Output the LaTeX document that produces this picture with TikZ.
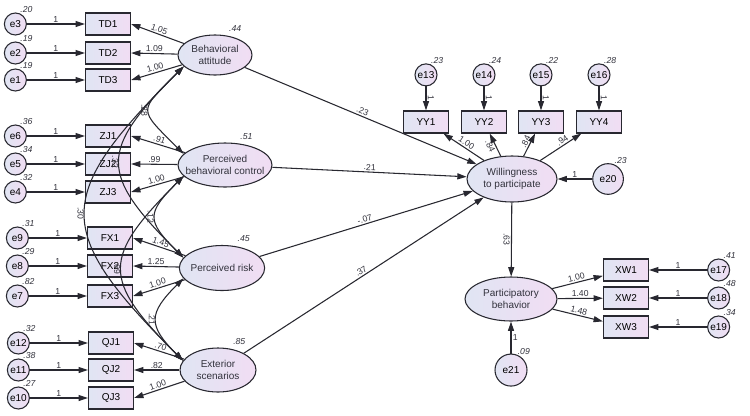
\documentclass[tikz,border=0pt]{standalone}
\usepackage{fontspec}
\setmainfont{Liberation Sans}
\usepackage{tikz}
\usetikzlibrary{arrows.meta, shapes.geometric, positioning, calc}
\definecolor{semLine}{RGB}{40, 40, 48}
\definecolor{semBlue}{RGB}{224, 229, 243}
\definecolor{semPink}{RGB}{241, 221, 243}
\definecolor{semText}{RGB}{50, 50, 60}

\begin{document}
\begin{tikzpicture}[
      x=0.75pt, y=-0.75pt,
      every node/.style = {font=\fontsize{7.5}{9}\selectfont},
      obs/.style  = {draw=semLine, line width=0.9pt,
                     left color=semBlue, right color=semPink,
                     minimum width=33.75pt, minimum height=16.5pt, inner sep=0pt},
      err/.style  = {circle, draw=semLine, line width=0.8pt,
                     left color=semBlue, right color=semPink,
                     minimum size=16.5pt, inner sep=0pt},
      lat/.style  = {ellipse, draw=semLine, line width=0.8pt,
                     left color=semBlue, right color=semPink,
                     inner sep=-8pt, align=center, text=semText},
      lbl/.style  = {font=\fontsize{6.5}{7}\selectfont, inner sep=1pt, text=semText},
      evar/.style = {label={[lbl, font=\fontsize{6.5}{7}\selectfont\itshape,
                     label distance=-1pt]70:#1}},
      lvar/.style = {label={[lbl, font=\fontsize{6.5}{7}\selectfont\itshape,
                     label distance=2pt]60:#1}},
      arrow/.style = {-{Triangle[length=7pt, width=4.5pt]}, line width=0.8pt, draw=semLine},
      cov/.style   = {{Triangle[length=7pt, width=4.5pt]}-{Triangle[length=7pt, width=4.5pt]},
                      line width=0.8pt, draw=semLine},
    ]
    \useasboundingbox (0,0) rectangle (750,415);
    %% ── Indicadores (izquierda) ────────────────────────────────
    \node (td1) [obs] at (108,24)  {TD1};
    \node (td2) [obs] at (108,53)  {TD2};
    \node (td3) [obs] at (108,80)  {TD3};
    \node (zj1) [obs] at (108,136) {ZJ1};
    \node (zj2) [obs] at (108,164) {ZJ2};
    \node (zj3) [obs] at (108,192) {ZJ3};
    \node (fx1) [obs] at (110,238) {FX1};
    \node (fx2) [obs] at (110,266) {FX2};
    \node (fx3) [obs] at (110,296) {FX3};
    \node (qj1) [obs] at (111,343) {QJ1};
    \node (qj2) [obs] at (111,370) {QJ2};
    \node (qj3) [obs] at (111,398) {QJ3};
    %% ── Errores (izquierda) ────────────────────────────────────
    \node (e3)  [err, evar=.20, left=43.5pt of td1] {e3};
    \node (e2)  [err, evar=.19, left=43.5pt of td2] {e2};
    \node (e1)  [err, evar=.19, left=43.5pt of td3] {e1};
    \node (e6)  [err, evar=.36, left=43.5pt of zj1] {e6};
    \node (e5)  [err, evar=.34, left=43.5pt of zj2] {e5};
    \node (e4)  [err, evar=.32, left=43.5pt of zj3] {e4};
    \node (e9)  [err, evar=.31, left=43.5pt of fx1] {e9};
    \node (e8)  [err, evar=.29, left=43.5pt of fx2] {e8};
    \node (e7)  [err, evar=.82, left=43.5pt of fx3] {e7};
    \node (e12) [err, evar=.32, left=43.5pt of qj1] {e12};
    \node (e11) [err, evar=.38, left=43.5pt of qj2] {e11};
    \node (e10) [err, evar=.27, left=43.5pt of qj3] {e10};
    %% ── Variables latentes ─────────────────────────────────────
    \node (ba)  [lat, lvar=.44, minimum width=55.5pt, minimum height=30pt]
      at (215,55) {Behavioral\\attitude};
    \node (pbc) [lat, lvar=.51, minimum width=70.5pt, minimum height=33pt]
      at (225,165) {Perceived\\behavioral control};
    \node (pr)  [lat, lvar=.45, minimum width=64pt, minimum height=33.75pt]
      at (222,268) {Perceived risk};
    \node (es)  [lat, lvar=.85, minimum width=57pt, minimum height=33pt]
      at (218,370) {Exterior\\scenarios};
    \node (wtp) [lat, minimum width=67.5pt, minimum height=34.5pt]
      at (512,179) {Willingness\\to participate};
    \node (pb)  [lat, minimum width=69pt, minimum height=33pt]
      at (511,299) {Participatory\\behavior};
    %% ── Indicadores (derecha) ──────────────────────────────────
    \node (yy1) [obs] at (426,122) {YY1};
    \node (yy2) [obs] at (484,122) {YY2};
    \node (yy3) [obs] at (541,122) {YY3};
    \node (yy4) [obs] at (599,122) {YY4};
    \node (e13) [err, evar=.23, above=18pt of yy1] {e13};
    \node (e14) [err, evar=.24, above=18pt of yy2] {e14};
    \node (e15) [err, evar=.22, above=18pt of yy3] {e15};
    \node (e16) [err, evar=.28, above=18pt of yy4] {e16};
    \node (xw1) [obs] at (626,270) {XW1};
    \node (xw2) [obs] at (626,298) {XW2};
    \node (xw3) [obs] at (626,327) {XW3};
    \node (e17) [err, evar=.41, right=43.5pt of xw1] {e17};
    \node (e18) [err, evar=.48, right=43.5pt of xw2] {e18};
    \node (e19) [err, evar=.34, right=43.5pt of xw3] {e19};
    \node (e20) [err, evar=.23, minimum size=23pt, right=26pt of wtp] {e20};
    \node (e21) [err, evar=.09, minimum size=24pt, below=24pt of pb] {e21};
    %% ── Flechas de error ───────────────────────────────────────
    \draw[arrow] (e3)  -- (td1) node[lbl, midway, above] {1};
    \draw[arrow] (e2)  -- (td2) node[lbl, midway, above] {1};
    \draw[arrow] (e1)  -- (td3) node[lbl, midway, above] {1};
    \draw[arrow] (e6)  -- (zj1) node[lbl, midway, above] {1};
    \draw[arrow] (e5)  -- (zj2) node[lbl, midway, above] {1};
    \draw[arrow] (e4)  -- (zj3) node[lbl, midway, above] {1};
    \draw[arrow] (e9)  -- (fx1) node[lbl, midway, above] {1};
    \draw[arrow] (e8)  -- (fx2) node[lbl, midway, above] {1};
    \draw[arrow] (e7)  -- (fx3) node[lbl, midway, above] {1};
    \draw[arrow] (e12) -- (qj1) node[lbl, midway, above] {1};
    \draw[arrow] (e11) -- (qj2) node[lbl, midway, above] {1};
    \draw[arrow] (e10) -- (qj3) node[lbl, midway, above] {1};
    \draw[arrow] (e13) -- (yy1) node[lbl, midway, above, sloped] {1};
    \draw[arrow] (e14) -- (yy2) node[lbl, midway, above, sloped] {1};
    \draw[arrow] (e15) -- (yy3) node[lbl, midway, above, sloped] {1};
    \draw[arrow] (e16) -- (yy4) node[lbl, midway, above, sloped] {1};
    \draw[arrow] (e17) -- (xw1) node[lbl, midway, above] {1};
    \draw[arrow] (e18) -- (xw2) node[lbl, midway, above] {1};
    \draw[arrow] (e19) -- (xw3) node[lbl, midway, above] {1};
    \draw[arrow] (e20) -- (wtp) node[lbl, midway, above] {1};
    \draw[arrow] (e21) -- (pb)  node[lbl, midway, right] {1};
    %% ── Cargas factoriales ─────────────────────────────────────
    \draw[arrow] (ba)  -- (td1.east) node[lbl, midway, above, sloped] {1.05};
    \draw[arrow] (ba)  -- (td2.east) node[lbl, midway, above, sloped] {1.09};
    \draw[arrow] (ba)  -- (td3.east) node[lbl, midway, above, sloped] {1.00};
    \draw[arrow] (pbc) -- (zj1.east) node[lbl, midway, above, sloped] {.91};
    \draw[arrow] (pbc) -- (zj2.east) node[lbl, midway, above, sloped] {.99};
    \draw[arrow] (pbc) -- (zj3.east) node[lbl, midway, above, sloped] {1.00};
    \draw[arrow] (pr)  -- (fx1.east) node[lbl, midway, above, sloped] {1.45};
    \draw[arrow] (pr)  -- (fx2.east) node[lbl, midway, above, sloped] {1.25};
    \draw[arrow] (pr)  -- (fx3.east) node[lbl, midway, above, sloped] {1.00};
    \draw[arrow] (es)  -- (qj1.east) node[lbl, midway, above, sloped] {.70};
    \draw[arrow] (es)  -- (qj2.east) node[lbl, midway, above, sloped] {.82};
    \draw[arrow] (es)  -- (qj3.east) node[lbl, midway, above, sloped] {1.00};
    \draw[arrow] (wtp) -- (yy1) node[lbl, midway, above, sloped] {1.00};
    \draw[arrow] (wtp) -- (yy2) node[lbl, pos=0.55, below, sloped] {.84};
    \draw[arrow] (wtp) -- (yy3) node[lbl, pos=0.55, above, sloped] {.84};
    \draw[arrow] (wtp) -- (yy4) node[lbl, pos=0.6, above, sloped] {.94};
    \draw[arrow] (pb)  -- (xw1) node[lbl, midway, above, sloped] {1.00};
    \draw[arrow] (pb)  -- (xw2) node[lbl, midway, above, sloped] {1.40};
    \draw[arrow] (pb)  -- (xw3) node[lbl, midway, above, sloped] {1.48};
    %% ── Trayectorias estructurales ─────────────────────────────
    \draw[arrow] (ba)  -- (wtp) node[lbl, midway, above, sloped] {.23};
    \draw[arrow] (pbc) -- (wtp) node[lbl, midway, above, sloped] {.21};
    \draw[arrow] (pr)  -- (wtp) node[lbl, midway, above, sloped] {-.07};
    \draw[arrow] (es)  -- (wtp) node[lbl, midway, above, sloped] {.37};
    \draw[arrow] (wtp) -- (pb)
      node[lbl, midway, anchor=north, rotate=-90] {.63};
    %% ── Covarianzas ────────────────────────────────────────────
    \draw[cov] (ba.200) to[out=225, in=135, looseness=1.9]
      node[lbl, midway, anchor=north, rotate=-90] {.28} (pbc.165);
    \draw[cov] (pbc.195) to[out=225, in=135, looseness=1.65]
      node[lbl, midway, anchor=north, rotate=-90] {.12} (pr.165);
    \draw[cov] (pr.195) to[out=225, in=135, looseness=1.55]
      node[lbl, midway, anchor=north, rotate=-90] {.21} (es.165);
    \draw[cov] (ba.200) to[out=225, in=135, looseness=1.6]
      node[lbl, midway, anchor=north, rotate=-90] {.30} (es.165);
    \draw[cov] (ba.200) to[out=225, in=135, looseness=1.6]
      node[lbl, midway, anchor=north, rotate=-90] {.32} (pr.165);
    \draw[cov] (pbc.195) to[out=225, in=135, looseness=1.6]
      node[lbl, midway, anchor=north, rotate=-90] {.69} (es.165);
  \end{tikzpicture}
\end{document}
